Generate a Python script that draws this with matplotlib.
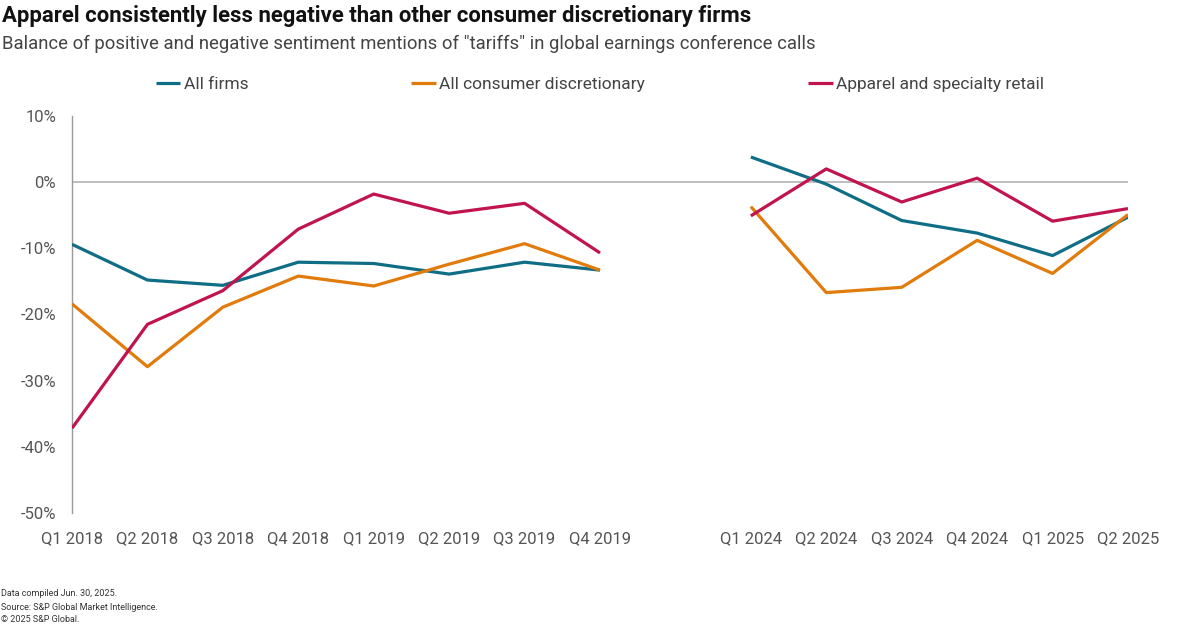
import numpy as np
import matplotlib
matplotlib.use("Agg")
import matplotlib.pyplot as plt

plt.rcParams['font.family'] = ['Roboto', 'DejaVu Sans']

quarters = ["Q1 2018", "Q2 2018", "Q3 2018", "Q4 2018", "Q1 2019", "Q2 2019",
            "Q3 2019", "Q4 2019", "",
            "Q1 2024", "Q2 2024", "Q3 2024", "Q4 2024", "Q1 2025", "Q2 2025"]

# None marks the gap between the two periods
all_firms = [-9.4, -14.8, -15.6, -12.1, -12.3, -13.9, -12.1, -13.3, None,
             3.8, -0.3, -5.8, -7.7, -11.1, -5.3]
consumer_disc = [-18.4, -27.9, -18.9, -14.2, -15.7, -12.4, -9.3, -13.3, None,
                 -3.7, -16.7, -15.9, -8.8, -13.8, -4.9]
apparel = [-37.2, -21.5, -16.4, -7.1, -1.8, -4.7, -3.2, -10.7, None,
           -5.1, 2.0, -3.0, 0.6, -5.9, -4.0]

series = [("All firms", all_firms, "#0f6e86"),
          ("All consumer discretionary", consumer_disc, "#e07b0c"),
          ("Apparel and specialty retail", apparel, "#c0134f")]

fig = plt.figure(figsize=(12, 6.27), dpi=100)
ax = fig.add_axes([0.06, 0.182, 0.88, 0.633])

x = np.arange(len(quarters))
ax.axhline(0, color="#b3b3b3", lw=1.2, zorder=1)
for name, vals, col in series:
    y = np.array([np.nan if v is None else v for v in vals], dtype=float)
    ax.plot(x, y, color=col, lw=2.3, label=name, zorder=3, solid_capstyle="butt")

ax.set_xlim(0, len(quarters) - 1)
ax.set_ylim(-50, 10)
ax.set_yticks(np.arange(-50, 11, 10))
ax.set_yticklabels([f"{v}%" for v in range(-50, 11, 10)])
ax.set_xticks(x)
ax.set_xticklabels(quarters)
ax.tick_params(axis="both", length=0, labelsize=12, labelcolor="#555555")
ax.tick_params(axis="x", pad=13)
ax.tick_params(axis="y", pad=11.5)
for s in ["top", "right", "bottom"]:
    ax.spines[s].set_visible(False)
ax.spines["left"].set_color("#9a9a9a")
ax.spines["left"].set_linewidth(1)

fig.legend(loc="center", bbox_to_anchor=(0.5, 1 - 84 / 627), ncol=3, frameon=False,
           fontsize=12.5, handlelength=1.4, handletextpad=0.2, columnspacing=9.4,
           labelcolor="#444444")

fig.text(0.002, 1 - 16 / 627, "Apparel consistently less negative than other consumer discretionary firms",
         fontsize=15.9, fontweight="bold", color="#111111", va="center", ha="left")
fig.text(0.002, 1 - 44 / 627, 'Balance of positive and negative sentiment mentions of "tariffs" in global earnings conference calls',
         fontsize=13.3, color="#444444", va="center", ha="left")

fig.text(0.001, 1 - 594 / 627, "Data compiled Jun. 30, 2025.", fontsize=6.5, color="#333333", va="center")
fig.text(0.001, 1 - 607 / 627, "Source: S&P Global Market Intelligence.", fontsize=6.5, color="#333333", va="center")
fig.text(0.001, 1 - 620 / 627, "\u00a9 2025 S&P Global.", fontsize=6.5, color="#333333", va="center")

fig.savefig("out.png", dpi=100, facecolor="white")
